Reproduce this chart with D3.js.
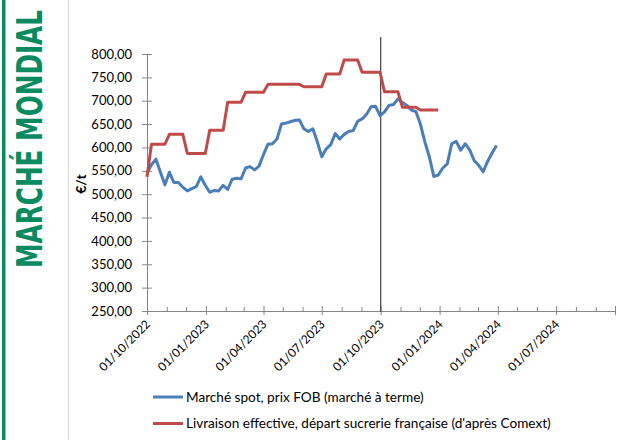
<!DOCTYPE html>
<html><head><meta charset="utf-8">
<script src="https://cdn.jsdelivr.net/npm/d3@7"></script>
<style>body{margin:0;background:#fff}svg{display:block}</style>
</head><body>
<svg id="c" width="637" height="440"></svg>
<script>
// ---- data ----
const startDate = "2022-10-01";
const spotFOB = [545,563,575,547,520,547,525,525,515,507,512,516,537,519,504,508,507,519,510,532,
  534,533,556,559,552,560,585,607,608,618,650,652,655,658,659,640,634,640,612,580,
  597,606,630,618,628,634,636,656,661,671,687,688,668,676,690,692,704,696,690,680,
  677,650,612,580,538,541,556,565,608,613,594,608,595,572,562,548,570,588,604];
const livraison = [537,607,607,607,607,628,628,628,628,587,587,587,587,587,637,637,637,637,697,697,
  697,697,718,718,718,718,718,735,735,735,735,735,735,735,735,730,730,730,730,730,
  757,757,757,757,787,787,787,787,761,761,761,761,761,719,719,719,719,686,686,686,
  686,680,680,680,680,680];
const yTicks = [250,300,350,400,450,500,550,600,650,700,750,800];
const xTickDates = ["2022-10-01","2023-01-01","2023-04-01","2023-07-01","2023-10-01","2024-01-01","2024-04-01","2024-07-01","2024-10-01"];
const xTickLabels = ["01/10/2022","01/01/2023","01/04/2023","01/07/2023","01/10/2023","01/01/2024","01/04/2024","01/07/2024"];
const markerDate = "2023-10-01";
const seriesNames = ["Marché spot, prix FOB (marché à terme)","Livraison effective, départ sucrerie française (d'après Comext)"];
const colors = ["#4a7ebb","#be4b48"];

const parse = d3.utcParse("%Y-%m-%d");
const t0 = parse(startDate);
const weekDate = i => d3.utcDay.offset(t0, 7*i);

const svg = d3.select("#c");
const x = d3.scaleUtc().domain([parse("2022-10-01"), parse("2024-10-01")]).range([147, 615]);
const y = d3.scaleLinear().domain([250, 800]).range([311, 54]);

// side banner
svg.append("rect").attr("x",2).attr("y",0).attr("width",3.5).attr("height",440).attr("fill","#0a8a5f");
svg.append("text").attr("transform","translate(42,268) rotate(-90)")
  .attr("font-family","'Liberation Sans Narrow','DejaVu Sans Condensed',Roboto,sans-serif")
  .attr("font-weight","bold").attr("font-size",36).attr("fill","#0a8a5f")
  .attr("textLength",258).attr("lengthAdjust","spacingAndGlyphs")
  .text("MARCHÉ MONDIAL");
svg.append("line").attr("x1",68.5).attr("x2",68.5).attr("y1",0).attr("y2",440).attr("stroke","#d9d9d9");

const font = "Lato, 'Open Sans', sans-serif";
// y axis
const ya = svg.append("g").attr("transform","translate(147,0)")
  .call(d3.axisLeft(y).tickValues(yTicks).tickSize(0).tickPadding(15)
    .tickFormat(d => d3.format(".2f")(d).replace(".", ",")));
ya.select(".domain").attr("stroke","#868686");
ya.selectAll("text").attr("font-family",font).attr("font-size",13).attr("fill","#000");
ya.selectAll(".tick").append("line").attr("x1",-5).attr("x2",5).attr("stroke","#868686");

svg.append("text").attr("transform","translate(86,184) rotate(-90)").attr("text-anchor","middle")
  .attr("font-family",font).attr("font-weight","bold").attr("font-size",14).text("€/t");

// x axis
const xa = svg.append("g").attr("transform","translate(0,311)")
  .call(d3.axisBottom(x).tickValues(d3.utcMonth.range(parse("2022-10-01"), parse("2024-10-02"))).tickSize(0).tickFormat(""));
xa.select(".domain").attr("stroke","#868686");
xa.selectAll(".tick").append("line").attr("y1",d => d.getUTCMonth()%3===0 ? -5 : -4)
  .attr("y2",d => d.getUTCMonth()%3===0 ? 4 : 0).attr("stroke","#868686");
const labs = svg.append("g");
xTickLabels.forEach((lab,i) => {
  const px = x(parse(xTickDates[i]));
  labs.append("text").attr("transform",`translate(${px+4},${325}) rotate(-45)`)
    .attr("text-anchor","end").attr("font-family",font).attr("font-size",12).text(lab);
});

// marker line
svg.append("line").attr("x1",x(parse(markerDate))).attr("x2",x(parse(markerDate)))
  .attr("y1",37).attr("y2",312).attr("stroke","#404040").attr("stroke-width",1.2);

// series
const line = d3.line().x((d,i) => x(weekDate(i))).y(d => y(d));
[spotFOB, livraison].forEach((s,k) => {
  svg.append("path").datum(s).attr("d",line).attr("fill","none")
    .attr("stroke",colors[k]).attr("stroke-width",3).attr("stroke-linejoin","round");
});

// legend
seriesNames.forEach((n,k) => {
  const ly = 397 + k*26.5;
  svg.append("line").attr("x1",153).attr("x2",183).attr("y1",ly).attr("y2",ly)
    .attr("stroke",colors[k]).attr("stroke-width",3);
  svg.append("text").attr("x",186).attr("y",ly+4.5).attr("font-family",font).attr("font-size",13.6).text(n);
});
</script>
</body></html>
